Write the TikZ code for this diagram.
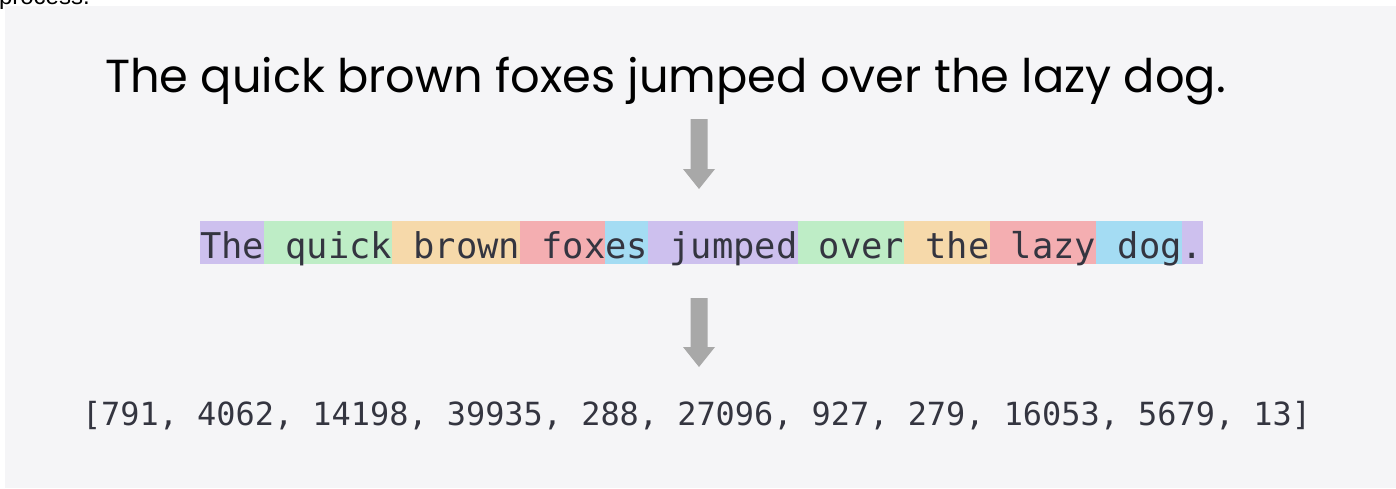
\documentclass[tikz,border=0pt]{standalone}
\usepackage{fontspec}
\usetikzlibrary{calc}
\setmainfont{Poppins}
\newfontfamily\monofont{DejaVu Sans Mono}
\newfontfamily\cutfont{Liberation Sans}
\definecolor{panel}{RGB}{245,245,247}
\definecolor{tokpurple}{RGB}{205,192,238}
\definecolor{tokgreen}{RGB}{190,237,198}
\definecolor{tokorange}{RGB}{246,217,170}
\definecolor{tokred}{RGB}{244,174,177}
\definecolor{tokblue}{RGB}{164,220,243}
\definecolor{arrowgray}{RGB}{168,168,168}
\definecolor{textdark}{RGB}{52,53,64}
\begin{document}
\begin{tikzpicture}[x=1pt,y=-1pt,
  tokbox/.style={draw=none, inner sep=0pt, outer sep=0pt, minimum height=43pt, anchor=west},
  blockarrow/.style={fill=arrowgray, draw=none},
  plain/.style={inner sep=0pt, outer sep=0pt}]
\useasboundingbox (0,0) rectangle (1396,488);
\fill[white] (0,0) rectangle (1396,488);
% cut-off text at the top edge (from the page above)
\node[plain, anchor=base west, font=\cutfont\fontsize{24}{28}\selectfont] (cut) at (-1,4) {process.};
\fill[panel] (5,6) rectangle (1396,488);
% top sentence
\node[plain, anchor=base west, font=\fontsize{46.3}{56}\selectfont] (sent) at (105,92) {The quick brown foxes jumped over the lazy dog.};
% token bands (char width 21.34)
\def\cw{21.34}
\node[tokbox, fill=tokpurple, minimum width=3*\cw pt] (t1) at (200,242.5) {};
\node[tokbox, fill=tokgreen,  minimum width=6*\cw pt] (t2) at (t1.east) {};
\node[tokbox, fill=tokorange, minimum width=6*\cw pt] (t3) at (t2.east) {};
\node[tokbox, fill=tokred,    minimum width=4*\cw pt] (t4) at (t3.east) {};
\node[tokbox, fill=tokblue,   minimum width=2*\cw pt] (t5) at (t4.east) {};
\node[tokbox, fill=tokpurple, minimum width=7*\cw pt] (t6) at (t5.east) {};
\node[tokbox, fill=tokgreen,  minimum width=5*\cw pt] (t7) at (t6.east) {};
\node[tokbox, fill=tokorange, minimum width=4*\cw pt] (t8) at (t7.east) {};
\node[tokbox, fill=tokred,    minimum width=5*\cw pt] (t9) at (t8.east) {};
\node[tokbox, fill=tokblue,   minimum width=4*\cw pt] (t10) at (t9.east) {};
\node[tokbox, fill=tokpurple, minimum width=1*\cw pt] (t11) at (t10.east) {};
\node[plain, anchor=base west, text=textdark, font=\monofont\fontsize{35.45}{42}\selectfont] (toks) at (200,258) {The quick brown foxes jumped over the lazy dog.};
% token ids
\node[plain, anchor=base west, text=textdark, font=\monofont\fontsize{31.9}{38}\selectfont] (ids) at (82,425) {[791, 4062, 14198, 39935, 288, 27096, 927, 279, 16053, 5679, 13]};
% block arrows
\coordinate (a1top) at (699,119);
\coordinate (a1tip) at (699,189);
\coordinate (a2top) at (699,298);
\coordinate (a2tip) at (699,367);
\fill[blockarrow] ($(a1top)+(-8.5,0)$) -- ($(a1top)+(8.5,0)$) -- ($(a1tip)+(8.5,-20)$) -- ($(a1tip)+(16,-20)$) -- (a1tip) -- ($(a1tip)+(-16,-20)$) -- ($(a1tip)+(-8.5,-20)$) -- cycle;
\fill[blockarrow] ($(a2top)+(-8.5,0)$) -- ($(a2top)+(8.5,0)$) -- ($(a2tip)+(8.5,-20)$) -- ($(a2tip)+(16,-20)$) -- (a2tip) -- ($(a2tip)+(-16,-20)$) -- ($(a2tip)+(-8.5,-20)$) -- cycle;
\end{tikzpicture}
\end{document}
